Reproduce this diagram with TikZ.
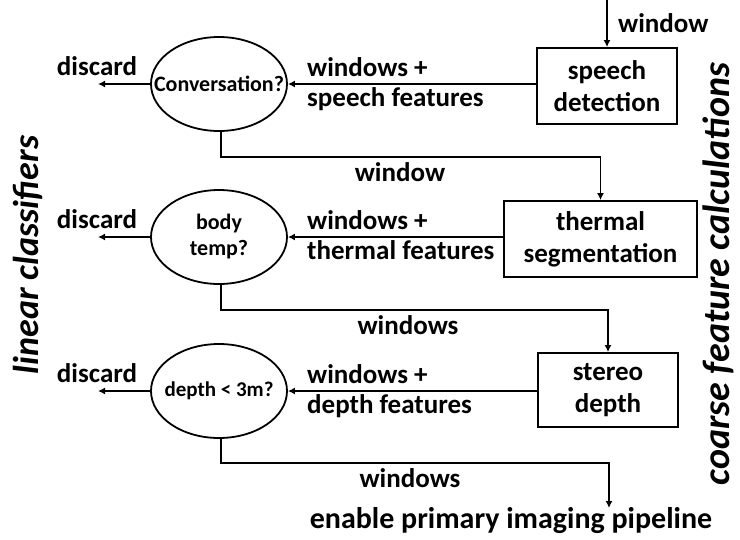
\documentclass[tikz,border=0pt]{standalone}
\usepackage{fontspec}
\setmainfont{Carlito}
\usetikzlibrary{arrows.meta,shapes.geometric}
\newcommand{\zw}[1]{\makebox[0pt][c]{#1}}
\begin{document}
\begin{tikzpicture}[x=1pt,y=-1pt,
  every node/.style={font=\bfseries\fontsize{27}{31}\selectfont, inner sep=0pt},
  arr/.style={line width=1.8pt,-{Latex[length=7pt,width=7pt]}},
  decision/.style={ellipse, draw, line width=1.8pt, minimum width=136pt, minimum height=94pt, align=center, font=\bfseries\fontsize{22}{26}\selectfont},
  stagebox/.style={rectangle, draw, line width=1.8pt, minimum height=76pt, align=center, font=\bfseries\fontsize{27}{32}\selectfont},
  sidelabel/.style={rotate=90, font=\bfseries\itshape}
]
\useasboundingbox (0,0) rectangle (740,539);

% decisions
\node[decision] (e1) at (219,84) {\zw{Conversation?}};
\node[decision] (e2) at (219,237) {\zw{body}\\\zw{temp?}};
\node[decision, font=\bfseries\fontsize{21}{25}\selectfont] (e3) at (219,391) {\zw{depth < 3m?}};

% stages
\node[stagebox, minimum width=140pt] (b1) at (607,86) {speech\\detection};
\node[stagebox, minimum width=193pt] (b2) at (600.5,239) {thermal\\segmentation};
\node[stagebox, minimum width=140pt, minimum height=74pt] (b3) at (608,390) {stereo\\depth};

% input
\coordinate (in) at (607,0);
\draw[arr] (in) -- (b1.north);
\node[anchor=west] (lin) at (618,23) {window};

% discard
\coordinate (d1) at (98,84);
\coordinate (d2) at (98,237);
\coordinate (d3) at (98,391);
\draw[arr] (e1.west) -- (d1);
\draw[arr] (e2.west) -- (d2);
\draw[arr] (e3.west) -- (d3);
\node (t1) at (97,66) {discard};
\node (t2) at (97,219) {discard};
\node (t3) at (97,373) {discard};

% features arrows
\draw[arr] (b1.west |- e1.east) -- (e1.east);
\draw[arr] (b2.west |- e2.east) -- (e2.east);
\draw[arr] (b3.west |- e3.east) -- (e3.east);
\node[anchor=base west] (w1) at (307,76) {windows +};
\node[anchor=base west] (f1) at (307,106) {speech features};
\node[anchor=base west] (w2) at (307,229) {windows +};
\node[anchor=base west] (f2) at (307,259) {thermal features};
\node[anchor=base west] (w3) at (307,383) {windows +};
\node[anchor=base west] (f3) at (307,413) {depth features};

% pass-through connectors
\coordinate (c1) at (221,157);
\coordinate (c2) at (221,310);
\coordinate (c3) at (221,463);
\coordinate (out) at (609,508);
\draw[arr] (e1.south -| c1) -- (c1) -- (c1 -| b2.north) -- (b2.north);
\draw[arr] (e2.south -| c2) -- (c2) -- (c2 -| b3.north) -- (b3.north);
\draw[arr] (e3.south -| c3) -- (c3) -- (c3 -| out) -- (out);
\node (p1) at (400,172) {window};
\node (p2) at (408,325) {windows};
\node (p3) at (410,478) {windows};
\node[font=\bfseries\fontsize{30}{34}\selectfont] (en) at (511,521) {enable primary imaging pipeline};

% side labels
\node[sidelabel, font=\bfseries\itshape\fontsize{36}{40}\selectfont] (sl) at (28,255) {linear classifiers};
\node[sidelabel, font=\bfseries\itshape\fontsize{38}{42}\selectfont] (sr) at (718,274) {coarse feature calculations};
\end{tikzpicture}
\end{document}
